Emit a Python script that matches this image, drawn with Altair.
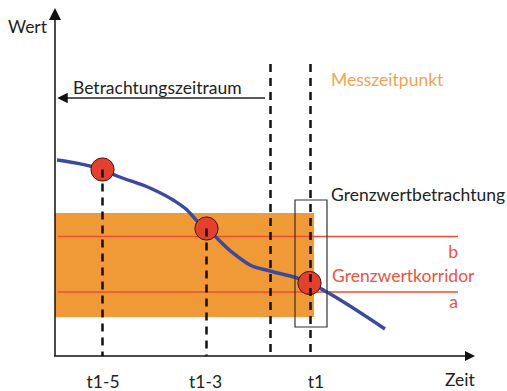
import altair as alt
import pandas as pd

FONT = "Lato"

# plot coordinate frame (abstract units)
X_MAX = 421
Y_MAX = 348

# blue value curve
curve_x = [3, 49, 63, 96, 119, 133, 144, 153, 179, 196, 216, 243, 256, 271, 331]
curve_y = [196, 186, 180, 168, 156, 146, 134, 127, 103, 91, 85, 78, 73, 65, 27]

# measurement points (red circles)
pt_x = [48.5, 152.5, 255.5]
pt_y = [186.5, 127.5, 73]

# dashed vertical lines
dash_x = [48.5, 152.5, 216.5, 256.5]
dash_top = [186.5, 127.5, 292, 292]

# tick labels
tick_labels = ["t1-5", "t1-3", "t1"]
tick_x = [49, 151.5, 262]
tick_y = [-32, -32, -32]

# limit corridor (a, b)
limit_names = ["a", "b"]
limit_y = [64, 119.5]
limit_label_y = [48, 98]
limit_x0 = 4
limit_x1 = 404

# orange band
band = {"x": 1, "x2": 260, "y": 39, "y2": 143}
# Grenzwertbetrachtung box
box = {"x": 241, "x2": 273, "y": 29, "y2": 156}

X = alt.Scale(domain=[0, X_MAX], nice=False, zero=False)
Y = alt.Scale(domain=[0, Y_MAX], nice=False, zero=False)


def xe(f="x"):
    return alt.X(f"{f}:Q", scale=X, axis=None)


def ye(f="y"):
    return alt.Y(f"{f}:Q", scale=Y, axis=None)


band_df = pd.DataFrame([band])
rect = alt.Chart(band_df).mark_rect(color="#EF9A36").encode(
    x=xe(), x2="x2:Q", y=ye(), y2="y2:Q")

lim_df = pd.DataFrame({"name": limit_names, "y": limit_y, "ly": limit_label_y,
                       "x": [limit_x0] * 2, "x2": [limit_x1] * 2})
lim_lines = alt.Chart(lim_df).mark_rule(color="#E8502F", strokeWidth=1.5).encode(
    x=xe(), x2="x2:Q", y=ye())
lim_text = alt.Chart(lim_df).mark_text(
    align="right", baseline="alphabetic", font=FONT, fontSize=17.5, color="#E8543F").encode(
    x=xe("x2"), y=ye("ly"), text="name:N")

box_df = pd.DataFrame([box])
box_mark = alt.Chart(box_df).mark_rect(filled=False, stroke="#333333", strokeWidth=1.2).encode(
    x=xe(), x2="x2:Q", y=ye(), y2="y2:Q")

curve_df = pd.DataFrame({"x": curve_x, "y": curve_y})
curve = alt.Chart(curve_df).mark_line(color="#3C4A9E", strokeWidth=3.5,
                                      interpolate="monotone").encode(
    x=xe(), y=ye(), order="x:Q")

pt_df = pd.DataFrame({"x": pt_x, "y": pt_y})
pts = alt.Chart(pt_df).mark_point(filled=True, size=540, fill="#E3402D",
                                  stroke="#3a1a10", strokeWidth=1, opacity=1).encode(
    x=xe(), y=ye())

dash_df = pd.DataFrame({"x": dash_x, "y": dash_top, "y0": [0] * len(dash_x)})
dashes = alt.Chart(dash_df).mark_rule(color="#111111", strokeWidth=2.5,
                                      strokeDash=[8, 6]).encode(
    x=xe(), y=ye(), y2="y0:Q")

# axes
axes_df = pd.DataFrame({"x": [1, 0], "x2": [1, 411], "y": [0, 0], "y2": [336, 0]})
axes = alt.Chart(axes_df).mark_rule(color="#111111", strokeWidth=1.5).encode(
    x=xe(), x2="x2:Q", y=ye(), y2="y2:Q")

arrow_up = alt.Chart(pd.DataFrame({"x": [1], "y": [342]})).mark_point(
    shape="M0,-1L1,1L-1,1Z", filled=True, size=144, color="#111111", opacity=1).encode(
    x=xe(), y=ye())
arrow_right = alt.Chart(pd.DataFrame({"x": [416], "y": [0]})).mark_point(
    shape="M1,0L-1,-1L-1,1Z", filled=True, size=100, color="#111111", opacity=1).encode(
    x=xe(), y=ye())

# Betrachtungszeitraum arrow
per_df = pd.DataFrame({"x": [8], "x2": [211], "y": [258]})
per_line = alt.Chart(per_df).mark_rule(color="#222222", strokeWidth=1.3).encode(
    x=xe(), x2="x2:Q", y=ye())
arrow_left = alt.Chart(pd.DataFrame({"x": [8.5], "y": [258]})).mark_point(
    shape="M-1,0L1,-1L1,1Z", filled=True, size=110, color="#111111", opacity=1).encode(
    x=xe(), y=ye())

# texts
txt_df = pd.DataFrame({
    "label": ["Wert", "Zeit", "Betrachtungszeitraum", "Grenzwertbetrachtung"],
    "x": [-46, 391, 19, 277],
    "y": [323, -30, 262, 155],
})
texts = alt.Chart(txt_df).mark_text(
    align="left", baseline="alphabetic", font=FONT, fontSize=17.5, color="#222222").encode(
    x=xe(), y=ye(), text="label:N")

orange_txt = alt.Chart(pd.DataFrame({"label": ["Messzeitpunkt"], "x": [277], "y": [270]})).mark_text(
    align="left", baseline="alphabetic", font=FONT, fontSize=17.5, color="#EDA555").encode(
    x=xe(), y=ye(), text="label:N")

red_txt = alt.Chart(pd.DataFrame({"label": ["Grenzwertkorridor"], "x": [278], "y": [74]})).mark_text(
    align="left", baseline="alphabetic", font=FONT, fontSize=17.5, color="#E8543F").encode(
    x=xe(), y=ye(), text="label:N")

tick_df = pd.DataFrame({"label": tick_labels, "x": tick_x, "y": tick_y})
ticks = alt.Chart(tick_df).mark_text(
    align="center", baseline="alphabetic", font=FONT, fontSize=17.5, color="#222222").encode(
    x=xe(), y=ye(), text="label:N")

chart = alt.layer(
    rect, lim_lines, curve, box_mark, pts, dashes, axes, arrow_up, arrow_right,
    per_line, arrow_left, texts, orange_txt, red_txt, lim_text, ticks
).properties(
    width=X_MAX, height=Y_MAX,
    padding={"left": 54, "top": 8, "right": 32, "bottom": 35},
    autosize=alt.AutoSizeParams(type="none"),
    background="white",
).configure_view(stroke=None)

chart.save("out.html", embed_options={"renderer": "svg", "actions": False})
